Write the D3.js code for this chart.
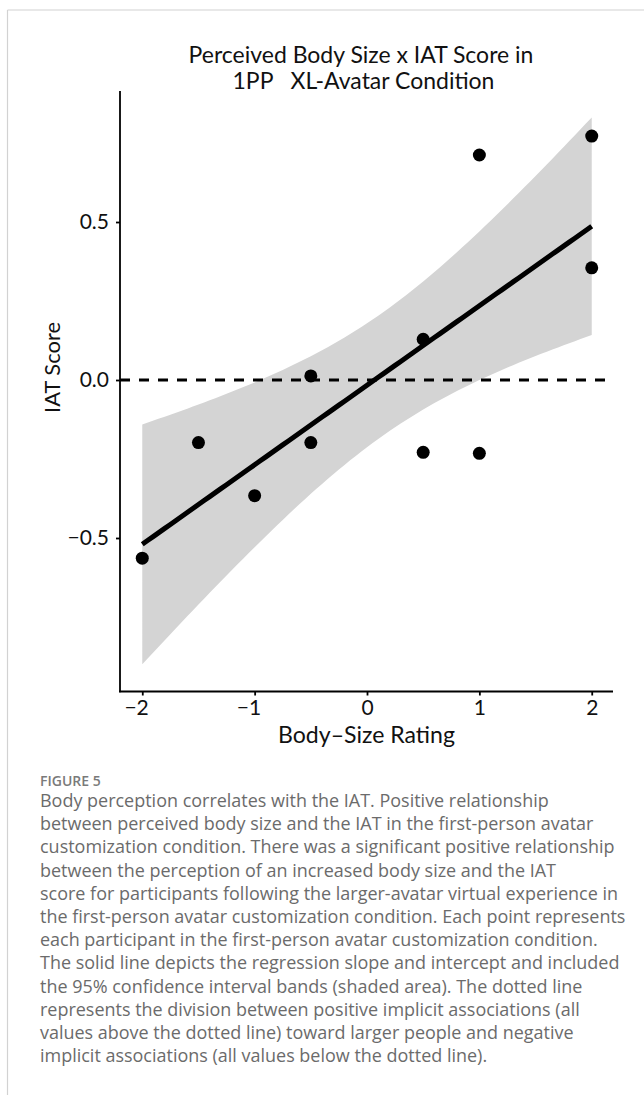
<!DOCTYPE html>
<html>
<head>
<meta charset="utf-8">
<script src="https://cdn.jsdelivr.net/npm/d3@7"></script>
<style>
  html, body { margin: 0; padding: 0; background: #fff; }
  svg { display: block; }
  text { font-family: "Open Sans", "Noto Sans", sans-serif; }
  .chartText { font-family: Lato, "Open Sans", sans-serif; }
</style>
</head>
<body>
<svg id="chart" width="644" height="1095"></svg>
<script>
// ---- data ----
const bodySize = [-2, -1.5, -1, -0.5, -0.5, 0.5, 0.5, 1, 1, 2, 2];
const iatScore = [-0.564, -0.198, -0.366, -0.198, 0.013, 0.129, -0.229, -0.232, 0.712, 0.772, 0.355];
const xTicks = [-2, -1, 0, 1, 2];
const yTicks = [-0.5, 0, 0.5];
const titleLines = ["Perceived Body Size x IAT Score in", "1PP   XL-Avatar Condition"];
const xLabel = "Body\u2013Size Rating";
const yLabel = "IAT Score";
const figureLabel = "FIGURE 5";
const captionLines = [
  "Body perception correlates with the IAT. Positive relationship",
  "between perceived body size and the IAT in the first-person avatar",
  "customization condition. There was a significant positive relationship",
  "between the perception of an increased body size and the IAT",
  "score for participants following the larger-avatar virtual experience in",
  "the first-person avatar customization condition. Each point represents",
  "each participant in the first-person avatar customization condition.",
  "The solid line depicts the regression slope and intercept and included",
  "the 95% confidence interval bands (shaded area). The dotted line",
  "represents the division between positive implicit associations (all",
  "values above the dotted line) toward larger people and negative",
  "implicit associations (all values below the dotted line)."
];
const tCrit = 2.262157; // t(0.975, df = 9)

// ---- regression + 95% CI from the points ----
const nPts = bodySize.length;
const mx = d3.mean(bodySize), my = d3.mean(iatScore);
const sxx = d3.sum(bodySize, v => (v - mx) ** 2);
const sxy = d3.sum(bodySize.map((v, i) => (v - mx) * (iatScore[i] - my)));
const slope = sxy / sxx, intercept = my - slope * mx;
const rss = d3.sum(bodySize.map((v, i) => (iatScore[i] - (intercept + slope * v)) ** 2));
const sRes = Math.sqrt(rss / (nPts - 2));
const xMin = d3.min(bodySize), xMax = d3.max(bodySize);
const fitX = d3.range(0, 81).map(i => xMin + (xMax - xMin) * i / 80);
const band = fitX.map(v => {
  const yhat = intercept + slope * v;
  const se = sRes * Math.sqrt(1 / nPts + (v - mx) ** 2 / sxx);
  return { x: v, yhat, lo: yhat - tCrit * se, hi: yhat + tCrit * se };
});

// ---- layout ----
const svg = d3.select("#chart");
const pLeft = 120, pRight = 613, pTop = 91, pBottom = 691.5;
const xs = d3.scaleLinear().domain([-2.2, 2.2]).range([119.8, 614.2]);
const ys = d3.scaleLinear().domain([-0.9858, 0.9146]).range([pBottom, pTop]);

// card frame (top + left edges)
svg.append("line").attr("x1", 7.5).attr("x2", 644).attr("y1", 10).attr("y2", 10)
  .attr("stroke", "#d2d2d2").attr("stroke-width", 1.2);
svg.append("line").attr("x1", 7.5).attr("x2", 7.5).attr("y1", 10).attr("y2", 1095)
  .attr("stroke", "#d2d2d2").attr("stroke-width", 1.2);

// helper to fit text to a target width
function fitWidth(sel, w) {
  const cur = parseFloat(sel.attr("font-size"));
  const len = sel.node().getComputedTextLength();
  const fs = cur * w / len;
  sel.attr("font-size", fs);
  return fs;
}

// title
const t1 = svg.append("text").attr("class", "chartText").attr("x", 361).attr("y", 62.5)
  .attr("text-anchor", "middle").attr("font-size", 22).attr("fill", "#111").text(titleLines[0]);
const tfs = fitWidth(t1, 345);
svg.append("text").attr("class", "chartText").attr("x", 363.5).attr("y", 89)
  .attr("text-anchor", "middle").attr("font-size", tfs).attr("fill", "#111")
  .style("white-space", "pre").text(titleLines[1]);

// confidence band
svg.append("path").datum(band)
  .attr("fill", "#d4d4d4")
  .attr("d", d3.area().x(d => xs(d.x)).y0(d => ys(d.lo)).y1(d => ys(d.hi)));

// dashed zero line
svg.append("line")
  .attr("x1", pLeft).attr("x2", pRight).attr("y1", ys(0)).attr("y2", ys(0))
  .attr("stroke", "#000").attr("stroke-width", 3).attr("stroke-dasharray", "10,9");

// regression line
svg.append("path").datum(band)
  .attr("fill", "none").attr("stroke", "#000").attr("stroke-width", 5)
  .attr("d", d3.line().x(d => xs(d.x)).y(d => ys(d.yhat)));

// points
svg.append("g").selectAll("circle").data(bodySize.map((b, i) => [b, iatScore[i]]))
  .join("circle")
  .attr("cx", d => xs(d[0])).attr("cy", d => ys(d[1])).attr("r", 6.5).attr("fill", "#000");

// axes
const yAxis = svg.append("g").attr("transform", `translate(${pLeft},0)`)
  .call(d3.axisLeft(ys).tickValues(yTicks).tickFormat(d3.format(".1f")).tickSize(4).tickSizeOuter(0).tickPadding(7));
yAxis.select(".domain").remove();
yAxis.append("line").attr("x1", 0).attr("x2", 0).attr("y1", pTop).attr("y2", pBottom + 0.8)
  .attr("stroke", "#000").attr("stroke-width", 1.8);
yAxis.selectAll(".tick line").attr("stroke", "#000").attr("stroke-width", 1.8);
yAxis.selectAll(".tick text").attr("class", "chartText").attr("font-size", 21).attr("fill", "#111")
  .attr("font-family", "Lato, sans-serif");

const xAxis = svg.append("g").attr("transform", `translate(0,${pBottom})`)
  .call(d3.axisBottom(xs).tickValues(xTicks).tickFormat(d3.format("d")).tickSize(4).tickSizeOuter(0).tickPadding(6));
xAxis.select(".domain").remove();
xAxis.append("line").attr("x1", pLeft - 0.9).attr("x2", pRight).attr("y1", 0).attr("y2", 0)
  .attr("stroke", "#000").attr("stroke-width", 1.8);
xAxis.selectAll(".tick line").attr("stroke", "#000").attr("stroke-width", 1.8);
xAxis.selectAll(".tick text").attr("class", "chartText").attr("font-size", 21).attr("fill", "#111")
  .attr("font-family", "Lato, sans-serif").attr("dy", "0.66em")
  .each(function(d) {
    if (d < 0) d3.select(this).attr("text-anchor", "end").attr("x", 6);
  });

// axis titles
const xl = svg.append("text").attr("class", "chartText").attr("x", 366.5).attr("y", 743)
  .attr("text-anchor", "middle").attr("font-size", 22).attr("fill", "#111").text(xLabel);
fitWidth(xl, 177);
const yl = svg.append("text").attr("class", "chartText").attr("transform", "translate(60,367.5) rotate(-90)")
  .attr("text-anchor", "middle").attr("font-size", 21).attr("fill", "#111").text(yLabel);
fitWidth(yl, 91);

// caption
svg.append("text").attr("x", 40).attr("y", 786).attr("font-size", 14).attr("font-weight", 600)
  .attr("fill", "#7a7a7a").text(figureLabel);
const cap = svg.append("g");
const capText = cap.selectAll("text").data(captionLines).join("text")
  .attr("x", 40).attr("y", (d, i) => 807 + i * 23.2)
  .attr("font-size", 16.5).attr("fill", "#6b6b6b").text(d => d);
const ref = capText.filter((d, i) => i === 2);
const cfs = fitWidth(ref, 575);
capText.attr("font-size", cfs);
</script>
</body>
</html>
